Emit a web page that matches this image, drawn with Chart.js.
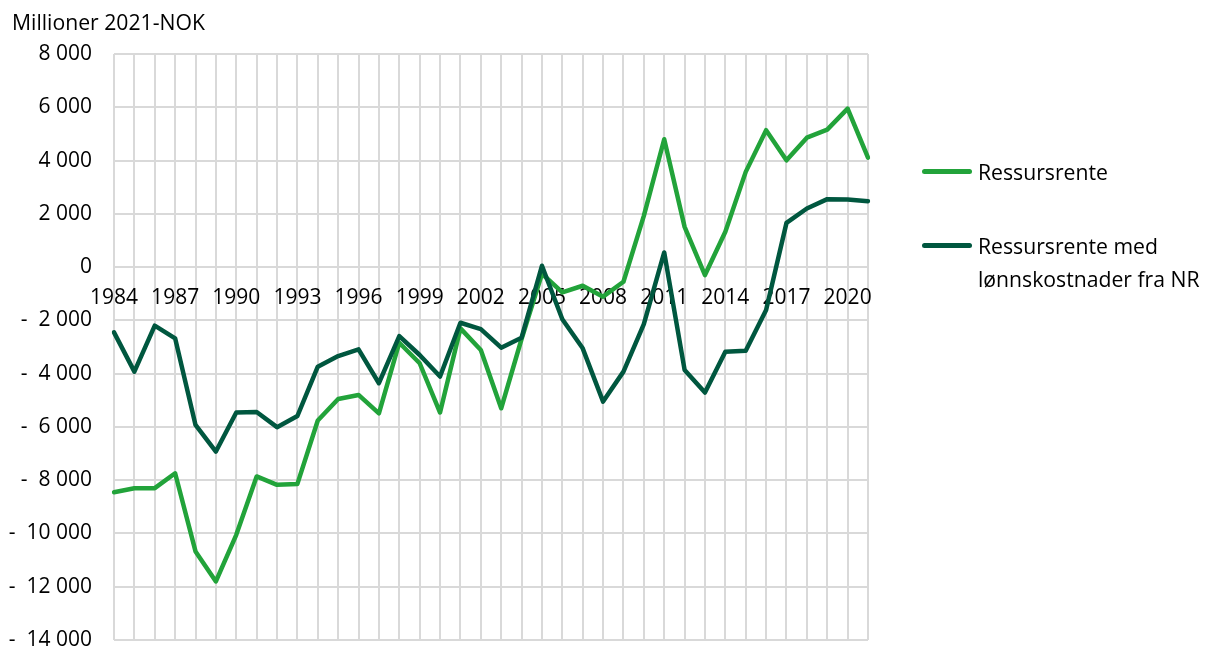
<!DOCTYPE html>
<html>
<head>
<meta charset="utf-8">
<script src="https://cdn.jsdelivr.net/npm/chart.js@4/dist/chart.umd.min.js"></script>
<style>
    body { margin: 0; background: #fff; font-family: "Open Sans", sans-serif; color: #000; }
    #wrap { position: relative; width: 1205px; height: 648px; }
    canvas { position: absolute; left: 0; top: 0; }
    .txt { position: absolute; font-size: 21.2px; line-height: 33px; white-space: nowrap; }
    .swatch { position: absolute; width: 50px; height: 5px; border-radius: 3px; }
</style>
</head>
<body>
<div id="wrap">
    <canvas id="chart" width="1205" height="648"></canvas>
    <div class="txt" style="left:12px; top:5px;">Millioner 2021-NOK</div>
    <div class="swatch" style="left:922px; top:169px; background:#22a33a;"></div>
    <div class="txt" style="left:978px; top:155px;">Ressursrente</div>
    <div class="swatch" style="left:922px; top:243px; background:#00573f;"></div>
    <div class="txt" style="left:978px; top:229px;">Ressursrente med<br>lønnskostnader fra NR</div>
</div>
<script>
const years = [];
for (let y = 1984; y <= 2021; y++) years.push(String(y));

// Ressursrente (mill. 2021-NOK)
const ressursrente = [
    -8450, -8300, -8300, -7740, -10675, -11800, -10050, -7860, -8175, -8140,
    -5760, -4950, -4800, -5490, -2840, -3610, -5460, -2300, -3110, -5300,
    -2700, -250, -950, -700, -1110, -550, 1925, 4800, 1510, -300,
    1325, 3575, 5140, 4010, 4860, 5160, 5950, 4110
];

// Ressursrente med lønnskostnader fra NR
const ressursrenteNR = [
    -2450, -3925, -2200, -2675, -5925, -6925, -5460, -5440, -6010, -5590,
    -3740, -3340, -3090, -4360, -2590, -3300, -4110, -2090, -2330, -3025,
    -2650, 50, -1960, -3050, -5050, -3925, -2140, 550, -3860, -4710,
    -3175, -3140, -1610, 1660, 2200, 2550, 2540, 2475
];

const yMin = -14000;
const yMax = 8000;
const yStep = 2000;

// Excel-style: "-  2 000"
function formatNok(v) {
    const s = Math.abs(v).toString().replace(/\B(?=(\d{3})+(?!\d))/g, ' ');
    return v < 0 ? '-  ' + s : s;
}

const gridColor = '#d9d9d9';
const tickFont = { family: 'Open Sans', size: 21 };

new Chart(document.getElementById('chart').getContext('2d'), {
    type: 'line',
    data: {
        labels: years,
        datasets: [{
            label: 'Ressursrente',
            data: ressursrente,
            borderColor: '#22a33a',
            borderWidth: 4.5,
            order: 1
        }, {
            label: 'Ressursrente med lønnskostnader fra NR',
            data: ressursrenteNR,
            borderColor: '#00573f',
            borderWidth: 4.5,
            order: 0
        }]
    },
    options: {
        responsive: false,
        animation: false,
        devicePixelRatio: 1,
        layout: { padding: { left: 0, top: 54, right: 337, bottom: 8 } },
        elements: {
            point: { radius: 0 },
            line: { tension: 0, borderJoinStyle: 'round', borderCapStyle: 'round' }
        },
        plugins: {
            legend: { display: false },
            tooltip: { enabled: false }
        },
        scales: {
            x: {
                position: { y: 0 },
                offset: false,
                afterFit: scale => {
                    scale.height = 0;
                    scale.paddingLeft = 0;
                    scale.paddingRight = 0;
                },
                grid: { color: gridColor, lineWidth: 2, drawTicks: false, offset: false },
                border: { display: false },
                ticks: {
                    autoSkip: false,
                    maxRotation: 0,
                    padding: 18,
                    color: '#000',
                    font: tickFont,
                    callback: function(value, index) {
                        return index % 3 === 0 ? this.getLabelForValue(value) : '';
                    }
                }
            },
            y: {
                min: yMin,
                max: yMax,
                afterFit: scale => {
                    scale.width = 114;
                    scale.paddingTop = 0;
                    scale.paddingBottom = 0;
                },
                grid: { color: gridColor, lineWidth: 2, drawTicks: false },
                border: { display: false },
                ticks: {
                    stepSize: yStep,
                    padding: 22,
                    color: '#000',
                    font: tickFont,
                    callback: v => formatNok(v)
                }
            }
        }
    }
});
</script>
</body>
</html>
